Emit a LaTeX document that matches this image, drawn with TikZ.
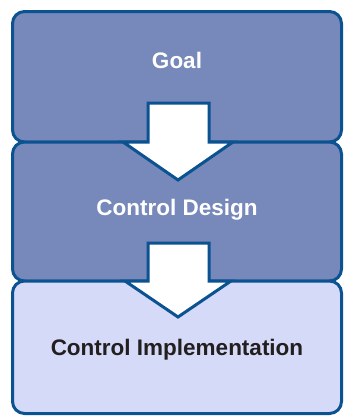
\documentclass[tikz,border=0pt]{standalone}
\usepackage{fontspec}
\setmainfont{Liberation Sans}
\definecolor{boxfill}{HTML}{7788BA}
\definecolor{boxline}{HTML}{0B5291}
\definecolor{lightfill}{HTML}{D5DAF8}
\definecolor{darktext}{HTML}{231F20}
\begin{document}
\begin{tikzpicture}[x=1pt,y=-1pt,
  stagebox/.style={draw=boxline, line width=3pt, rounded corners=12pt, minimum width=329pt, inner sep=0pt},
  darkbox/.style={stagebox, fill=boxfill},
  lightbox/.style={stagebox, fill=lightfill},
  stagetext/.style={font=\fontsize{22.5}{26}\selectfont\bfseries, inner sep=0pt},
  bigarrow/.style={draw=boxline, line width=3pt, fill=white, line join=miter}]
\useasboundingbox (0,0) rectangle (345,416);
\node[darkbox, minimum height=130.5pt] (goal) at (177,76.75) {};
\node[darkbox, minimum height=139pt] (design) at (177,211.5) {};
\node[lightbox, minimum height=132.5pt] (impl) at (177,347.25) {};
\node[stagetext, text=white] (goaltxt) at (177,60) {Goal};
\node[stagetext, text=white] (designtxt) at (177,210) {Control Design};
\node[stagetext, text=darktext] (impltxt) at (177,350) {Control Implementation};
% arrows
\coordinate (a1) at (178,142);
\draw[bigarrow] ([xshift=-30pt,yshift=39pt]a1) -- ([xshift=-30pt]a1) -- ([xshift=-55pt]a1) -- ([yshift=-38pt]a1) -- ([xshift=55pt]a1) -- ([xshift=31pt]a1) -- ([xshift=31pt,yshift=39pt]a1) -- cycle;
\coordinate (a2) at (178,281);
\draw[bigarrow] ([xshift=-30pt,yshift=38pt]a2) -- ([xshift=-30pt]a2) -- ([xshift=-53pt]a2) -- ([yshift=-36pt]a2) -- ([xshift=53pt]a2) -- ([xshift=31pt]a2) -- ([xshift=31pt,yshift=38pt]a2) -- cycle;
\end{tikzpicture}
\end{document}
